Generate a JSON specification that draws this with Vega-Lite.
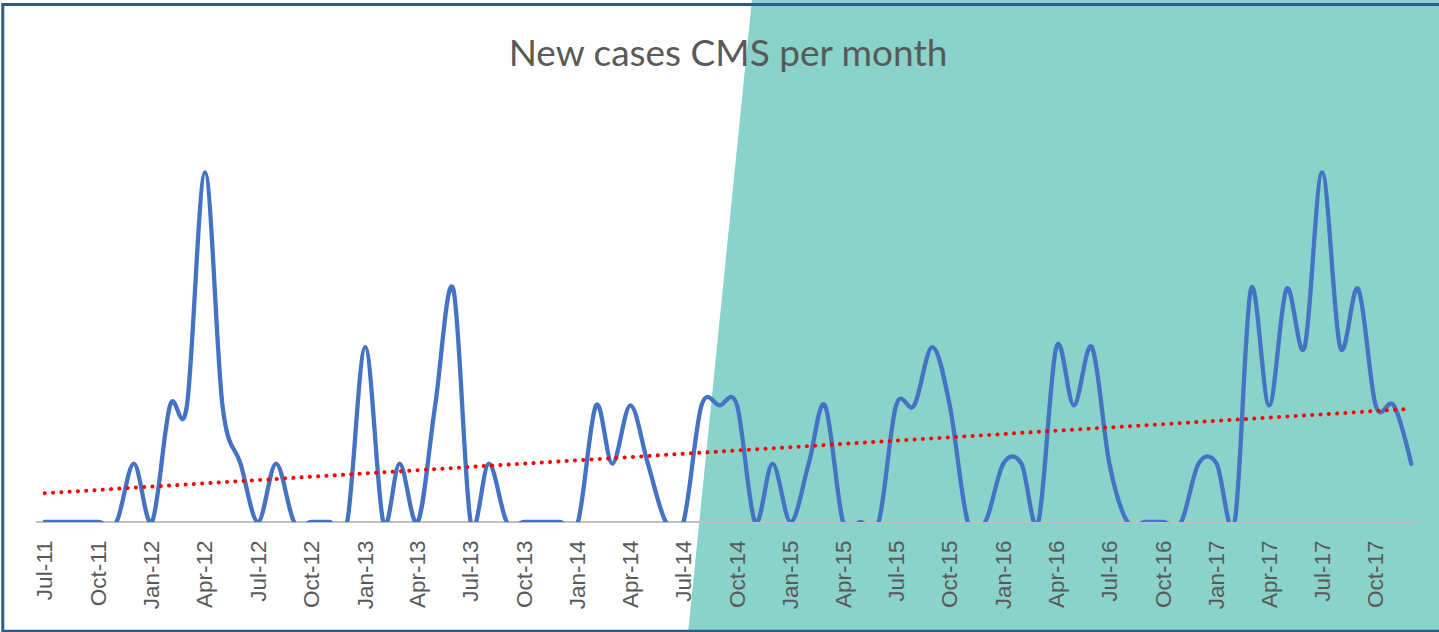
{
  "$schema": "https://vega.github.io/schema/vega-lite/v6.json",
  "width": 1384,
  "height": 408,
  "autosize": {"type": "none"},
  "padding": {"left": 36, "top": 114, "right": 19, "bottom": 110},
  "background": "white",
  "config": {"view": {"stroke": null}},
  "title": {
    "text": "New cases CMS per month",
    "font": "Lato",
    "fontSize": 37,
    "fontWeight": "normal",
    "color": "#595959",
    "anchor": "middle",
    "frame": "group",
    "baseline": "alphabetic",
    "offset": -105.6
  },
  "data": {
    "values": [
      {"date": "2011/07/01", "value": 0},
      {"date": "2011/08/01", "value": 0},
      {"date": "2011/09/01", "value": 0},
      {"date": "2011/10/01", "value": 0},
      {"date": "2011/11/01", "value": 0},
      {"date": "2011/12/01", "value": 1},
      {"date": "2012/01/01", "value": 0},
      {"date": "2012/02/01", "value": 2},
      {"date": "2012/03/01", "value": 2},
      {"date": "2012/04/01", "value": 6},
      {"date": "2012/05/01", "value": 2},
      {"date": "2012/06/01", "value": 1},
      {"date": "2012/07/01", "value": 0},
      {"date": "2012/08/01", "value": 1},
      {"date": "2012/09/01", "value": 0},
      {"date": "2012/10/01", "value": 0},
      {"date": "2012/11/01", "value": 0},
      {"date": "2012/12/01", "value": 0},
      {"date": "2013/01/01", "value": 3},
      {"date": "2013/02/01", "value": 0},
      {"date": "2013/03/01", "value": 1},
      {"date": "2013/04/01", "value": 0},
      {"date": "2013/05/01", "value": 2},
      {"date": "2013/06/01", "value": 4},
      {"date": "2013/07/01", "value": 0},
      {"date": "2013/08/01", "value": 1},
      {"date": "2013/09/01", "value": 0},
      {"date": "2013/10/01", "value": 0},
      {"date": "2013/11/01", "value": 0},
      {"date": "2013/12/01", "value": 0},
      {"date": "2014/01/01", "value": 0},
      {"date": "2014/02/01", "value": 2},
      {"date": "2014/03/01", "value": 1},
      {"date": "2014/04/01", "value": 2},
      {"date": "2014/05/01", "value": 1},
      {"date": "2014/06/01", "value": 0},
      {"date": "2014/07/01", "value": 0},
      {"date": "2014/08/01", "value": 2},
      {"date": "2014/09/01", "value": 2},
      {"date": "2014/10/01", "value": 2},
      {"date": "2014/11/01", "value": 0},
      {"date": "2014/12/01", "value": 1},
      {"date": "2015/01/01", "value": 0},
      {"date": "2015/02/01", "value": 1},
      {"date": "2015/03/01", "value": 2},
      {"date": "2015/04/01", "value": 0},
      {"date": "2015/05/01", "value": 0},
      {"date": "2015/06/01", "value": 0},
      {"date": "2015/07/01", "value": 2},
      {"date": "2015/08/01", "value": 2},
      {"date": "2015/09/01", "value": 3},
      {"date": "2015/10/01", "value": 2},
      {"date": "2015/11/01", "value": 0},
      {"date": "2015/12/01", "value": 0},
      {"date": "2016/01/01", "value": 1},
      {"date": "2016/02/01", "value": 1},
      {"date": "2016/03/01", "value": 0},
      {"date": "2016/04/01", "value": 3},
      {"date": "2016/05/01", "value": 2},
      {"date": "2016/06/01", "value": 3},
      {"date": "2016/07/01", "value": 1},
      {"date": "2016/08/01", "value": 0},
      {"date": "2016/09/01", "value": 0},
      {"date": "2016/10/01", "value": 0},
      {"date": "2016/11/01", "value": 0},
      {"date": "2016/12/01", "value": 1},
      {"date": "2017/01/01", "value": 1},
      {"date": "2017/02/01", "value": 0},
      {"date": "2017/03/01", "value": 4},
      {"date": "2017/04/01", "value": 2},
      {"date": "2017/05/01", "value": 4},
      {"date": "2017/06/01", "value": 3},
      {"date": "2017/07/01", "value": 6},
      {"date": "2017/08/01", "value": 3},
      {"date": "2017/09/01", "value": 4},
      {"date": "2017/10/01", "value": 2},
      {"date": "2017/11/01", "value": 2},
      {"date": "2017/12/01", "value": 1}
    ],
    "format": {"parse": {"date": "date"}}
  },
  "layer": [
    {
      "data": {
        "values": [
          {"date": "2014/10/27", "level": 9, "end": "2018/01/31"},
          {"date": "2014/07/08", "level": -2, "end": "2018/01/31"}
        ],
        "format": {"parse": {"date": "date", "end": "date"}}
      },
      "mark": {"type": "area", "orient": "horizontal", "clip": false, "color": "#8AD3CB", "opacity": 1},
      "encoding": {
        "y": {"field": "level", "type": "quantitative", "scale": {"domain": [0, 7], "nice": false, "zero": false}, "axis": null},
        "x": {
          "field": "date",
          "type": "temporal",
          "scale": {"domain": [{"year": 2011, "month": 6, "date": 16}, {"year": 2017, "month": 12, "date": 16}], "nice": false},
          "axis": {
            "title": null,
            "format": "%b-%y",
            "labelAngle": -90,
            "labelFont": "Liberation Sans",
            "labelFontSize": 22.5,
            "labelColor": "#595959",
            "ticks": false,
            "domain": false,
            "grid": false,
            "labelPadding": 18,
            "tickCount": {"interval": "month", "step": 3},
            "labelOverlap": false,
            "labelBound": false,
            "labelFlush": false,
            "zindex": 1
          }
        },
        "x2": {"field": "end"}
      }
    },
    {
      "data": {"values": [{"baseline": 0}]},
      "mark": {"type": "rule", "color": "#BFBFBF", "strokeWidth": 2},
      "encoding": {
        "y": {"field": "baseline", "type": "quantitative", "scale": {"domain": [0, 7], "nice": false, "zero": false}, "axis": null}
      }
    },
    {
      "mark": {"type": "line", "interpolate": "cardinal", "color": "#4472C4", "strokeWidth": 4.3, "clip": true, "strokeCap": "round", "strokeJoin": "round"},
      "encoding": {
        "x": {
          "field": "date",
          "type": "temporal",
          "scale": {"domain": [{"year": 2011, "month": 6, "date": 16}, {"year": 2017, "month": 12, "date": 16}], "nice": false},
          "axis": {
            "title": null,
            "format": "%b-%y",
            "labelAngle": -90,
            "labelFont": "Liberation Sans",
            "labelFontSize": 22.5,
            "labelColor": "#595959",
            "ticks": false,
            "domain": false,
            "grid": false,
            "labelPadding": 18,
            "tickCount": {"interval": "month", "step": 3},
            "labelOverlap": false,
            "labelBound": false,
            "labelFlush": false,
            "zindex": 1
          }
        },
        "y": {"field": "value", "type": "quantitative", "scale": {"domain": [0, 7], "nice": false, "zero": false}, "axis": null}
      }
    },
    {
      "transform": [{"regression": "value", "on": "date"}],
      "mark": {"type": "line", "color": "#FF0000", "strokeWidth": 4, "strokeDash": [0.1, 8.2], "strokeCap": "round"},
      "encoding": {
        "x": {
          "field": "date",
          "type": "temporal",
          "scale": {"domain": [{"year": 2011, "month": 6, "date": 16}, {"year": 2017, "month": 12, "date": 16}], "nice": false},
          "axis": {
            "title": null,
            "format": "%b-%y",
            "labelAngle": -90,
            "labelFont": "Liberation Sans",
            "labelFontSize": 22.5,
            "labelColor": "#595959",
            "ticks": false,
            "domain": false,
            "grid": false,
            "labelPadding": 18,
            "tickCount": {"interval": "month", "step": 3},
            "labelOverlap": false,
            "labelBound": false,
            "labelFlush": false,
            "zindex": 1
          }
        },
        "y": {"field": "value", "type": "quantitative", "scale": {"domain": [0, 7], "nice": false, "zero": false}, "axis": null}
      }
    },
    {
      "data": {
        "values": [{"start": "2011/04/20", "end": "2018/02/15", "top": 8.88, "bottom": -1.875}],
        "format": {"parse": {"start": "date", "end": "date"}}
      },
      "mark": {"type": "rect", "clip": false, "fill": null, "fillOpacity": 0, "stroke": "#2F5B89", "strokeWidth": 3},
      "encoding": {
        "x": {
          "field": "start",
          "type": "temporal",
          "scale": {"domain": [{"year": 2011, "month": 6, "date": 16}, {"year": 2017, "month": 12, "date": 16}], "nice": false},
          "axis": {
            "title": null,
            "format": "%b-%y",
            "labelAngle": -90,
            "labelFont": "Liberation Sans",
            "labelFontSize": 22.5,
            "labelColor": "#595959",
            "ticks": false,
            "domain": false,
            "grid": false,
            "labelPadding": 18,
            "tickCount": {"interval": "month", "step": 3},
            "labelOverlap": false,
            "labelBound": false,
            "labelFlush": false,
            "zindex": 1
          }
        },
        "x2": {"field": "end"},
        "y": {"field": "top", "type": "quantitative", "scale": {"domain": [0, 7], "nice": false, "zero": false}, "axis": null},
        "y2": {"field": "bottom"}
      }
    }
  ]
}
